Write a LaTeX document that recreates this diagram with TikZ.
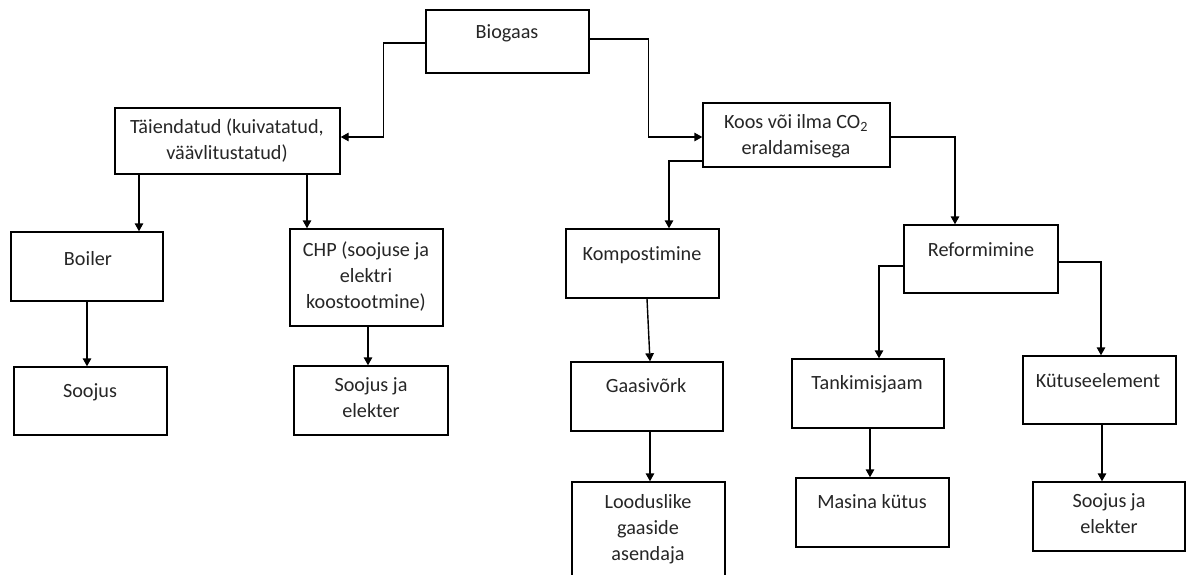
\documentclass[tikz,border=0pt]{standalone}
\usepackage{fontspec}
\setmainfont{Carlito}[Ligatures={NoCommon}]
\usetikzlibrary{arrows.meta}
\newcommand{\mlines}[1]{\begin{tabular}[t]{@{}c@{}}#1\end{tabular}}
\tikzset{
  box/.style={draw=black, line width=1.4pt, rectangle, inner sep=0pt, fill=none},
  lbl/.style={anchor=base, inner sep=0pt, text=black!85, font=\fontsize{20.2}{26}\selectfont},
  arr/.style={draw=black, line width=1.4pt, -{Triangle[length=8pt,width=8.5pt]}}
}
\begin{document}
\begin{tikzpicture}[x=1pt,y=-1pt]
\clip (0,0) rectangle (1186,574);
\fill[white] (0,0) rectangle (1186,574);
% boxes
\node[box, minimum width=163pt, minimum height=63pt] (bio) at (507.5,41.5) {};
\node[box, minimum width=225pt, minimum height=66pt] (tai) at (227.5,141) {};
\node[box, minimum width=187pt, minimum height=64pt] (koos) at (796.5,135) {};
\node[box, minimum width=152pt, minimum height=69pt] (boil) at (87,266.5) {};
\node[box, minimum width=153pt, minimum height=97pt] (chp) at (366.5,277.5) {};
\node[box, minimum width=153pt, minimum height=68pt] (sooj) at (90.5,401) {};
\node[box, minimum width=154pt, minimum height=69pt] (sjeA) at (371,400.5) {};
\node[box, minimum width=153pt, minimum height=69pt] (komp) at (642.5,263.5) {};
\node[box, minimum width=154pt, minimum height=68pt] (ref) at (981,259) {};
\node[box, minimum width=152pt, minimum height=69pt] (gaas) at (647,396.5) {};
\node[box, minimum width=152pt, minimum height=69pt] (tank) at (868,393.5) {};
\node[box, minimum width=153pt, minimum height=68pt] (kyt) at (1099.5,390) {};
\node[box, minimum width=153pt, minimum height=112pt] (lood) at (648.5,538) {};
\node[box, minimum width=153pt, minimum height=69pt] (mas) at (872.5,512.5) {};
\node[box, minimum width=152pt, minimum height=69pt] (sjeB) at (1109,516.5) {};
% labels
\node[lbl] (tbio) at (507,38) {Biogaas};
\node[lbl] (ttai) at (227,133) {\mlines{Täiendatud (kuivatatud,\\väävlitustatud)}};
\node[lbl] (tkoos) at (796,128) {\mlines{Koos või ilma CO\textsubscript{2}\\eraldamisega}};
\node[lbl] (tboil) at (88,265) {Boiler};
\node[lbl] (tsooj) at (90,397) {Soojus};
\node[lbl] (tchp) at (366,256) {\mlines{CHP (soojuse ja\\elektri\\koostootmine)}};
\node[lbl] (tsjeA) at (371,391) {\mlines{Soojus ja\\elekter}};
\node[lbl] (tkomp) at (642,260) {Kompostimine};
\node[lbl] (tref) at (981,256) {Reformimine};
\node[lbl] (tgaas) at (646,392) {Gaasivõrk};
\node[lbl] (ttank) at (867,389) {Tankimisjaam};
\node[lbl] (tkyt) at (1098,387) {Kütuseelement};
\node[lbl] (tlood) at (648,508) {\mlines{Looduslike\\gaaside\\asendaja}};
\node[lbl] (tmas) at (872,508) {Masina kütus};
\node[lbl] (tsjeB) at (1109,507) {\mlines{Soojus ja\\elekter}};
% connectors
\draw[arr] ([yshift=-1.5pt]bio.west) -- ++(-42,0) |- ([yshift=4pt]tai.east);
\draw[arr] ([yshift=2.5pt]bio.east) -- ++(59,0) |- ([yshift=-2pt]koos.west);
\draw[arr] ([yshift=-26pt]koos.west) -| ([xshift=26.5pt]komp.north);
\draw[arr] ([yshift=-2pt]koos.east) -| ([xshift=-26pt]ref.north);
\draw[arr] ([yshift=-7pt]ref.west) -| ([xshift=11pt]tank.north);
\draw[arr] ([yshift=-3pt]ref.east) -| ([xshift=1.5pt]kyt.north);
\draw[arr] ([xshift=-88.5pt]tai.south) -- ([xshift=52pt]boil.north);
\draw[arr] ([xshift=79.5pt]tai.south) -- ([xshift=-59.5pt]chp.north);
\draw[arr] (boil.south) -- ([xshift=-3.5pt]sooj.north);
\draw[arr] ([xshift=1.5pt]chp.south) -- ([xshift=-3pt]sjeA.north);
\draw[arr] ([xshift=4.5pt]komp.south) -- ([xshift=3pt]gaas.north);
\draw[arr] ([xshift=3pt]gaas.south) -- ([xshift=1.5pt]lood.north);
\draw[arr] ([xshift=2pt]tank.south) -- ([xshift=-2.5pt]mas.north);
\draw[arr] ([xshift=2.5pt]kyt.south) -- ([xshift=-7pt]sjeB.north);
\end{tikzpicture}
\end{document}
